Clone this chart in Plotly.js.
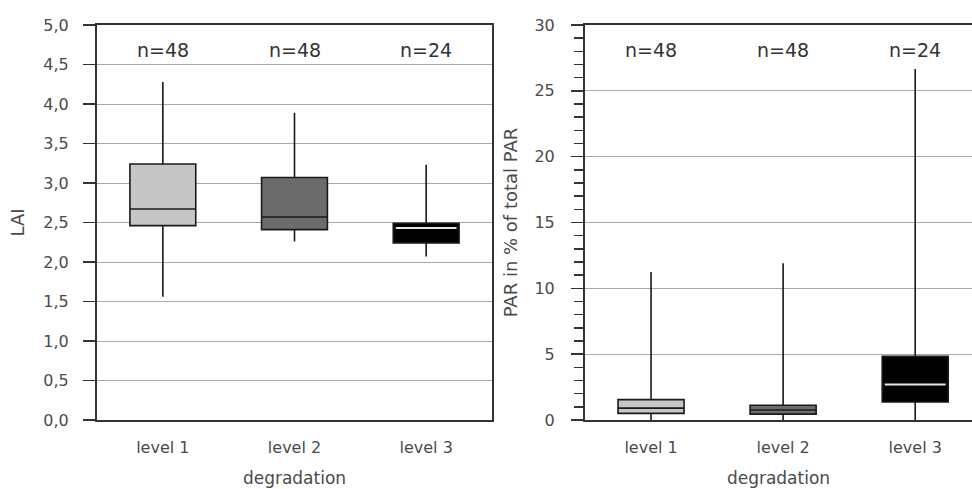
<!DOCTYPE html>
<html>
<head>
<meta charset="utf-8">
<script src="https://cdn.plot.ly/plotly-3.0.1.min.js"></script>
<style>html,body{margin:0;padding:0;background:#fff;}#chart{width:972px;height:489px;}</style>
</head>
<body>
<div id="chart"></div>
<script>
// ---- data ----
const categories = ['level 1', 'level 2', 'level 3'];
const counts = ['n=48', 'n=48', 'n=24'];

const laiLower  = [1.56, 2.26, 2.07];
const laiQ1     = [2.46, 2.41, 2.24];
const laiMedian = [2.67, 2.57, 2.43];
const laiQ3     = [3.24, 3.07, 2.49];
const laiUpper  = [4.28, 3.89, 3.23];

const parLower  = [0, 0, 0];
const parQ1     = [0.5, 0.45, 1.37];
const parMedian = [0.9, 0.76, 2.7];
const parQ3     = [1.55, 1.12, 4.83];
const parUpper  = [11.24, 11.9, 26.65];

// ---- styles ----
const fills = ['#c6c6c6', '#6c6c6c', '#000000'];
const medianColors = ['#1a1a1a', '#1a1a1a', '#e6e6e6'];
const FONT = 'DejaVu Sans, Arial, sans-serif';
const TXT = '#4a4a4a';

function boxTraces(lo, q1, med, q3, hi, xa, ya) {
  const out = [];
  categories.forEach((c, i) => {
    out.push({
      type: 'box', x: [c], q1: [q1[i]], median: [med[i]], q3: [q3[i]],
      lowerfence: [lo[i]], upperfence: [hi[i]],
      xaxis: xa, yaxis: ya, width: 0.5, whiskerwidth: 0,
      fillcolor: fills[i], line: {color: '#1a1a1a', width: 1.6},
      boxpoints: false, hoverinfo: 'skip', showlegend: false
    });
    if (medianColors[i] !== '#1a1a1a') {
      out.push({
        type: 'box', x: [c], q1: [med[i]], median: [med[i]], q3: [med[i]],
        lowerfence: [med[i]], upperfence: [med[i]],
        xaxis: xa, yaxis: ya, width: 0.46, whiskerwidth: 0,
        fillcolor: 'rgba(0,0,0,0)', line: {color: medianColors[i], width: 2},
        boxpoints: false, hoverinfo: 'skip', showlegend: false
      });
    }
  });
  return out;
}

const data = [
  ...boxTraces(laiLower, laiQ1, laiMedian, laiQ3, laiUpper, 'x', 'y'),
  ...boxTraces(parLower, parQ1, parMedian, parQ3, parUpper, 'x2', 'y2')
];

const annotations = [];
categories.forEach((c, i) => {
  annotations.push({x: c, xref: 'x', y: 0.937, yref: 'y domain', yanchor: 'middle', text: counts[i], showarrow: false,
    font: {family: FONT, size: 19, color: '#333'}});
  annotations.push({x: c, xref: 'x2', y: 0.937, yref: 'y2 domain', yanchor: 'middle', text: counts[i], showarrow: false,
    font: {family: FONT, size: 19, color: '#333'}});
});

const xCommon = {
  type: 'category', showgrid: false, zeroline: false, showline: true, mirror: true,
  linecolor: '#333', linewidth: 2, ticks: '', ticklabelstandoff: 12,
  tickfont: {family: FONT, size: 16, color: TXT},
  title: {text: 'degradation', font: {family: FONT, size: 17, color: TXT}, standoff: 16}
};

const layout = {
  width: 972, height: 489,
  margin: {l: 0, r: 0, t: 25, b: 69},
  paper_bgcolor: '#fff', plot_bgcolor: '#fff',
  separators: ',.',
  boxmode: 'overlay',
  showlegend: false,
  xaxis: Object.assign({}, xCommon, {domain: [97 / 972, 492 / 972], range: [-0.5, 2.5], anchor: 'y'}),
  xaxis2: Object.assign({}, xCommon, {domain: [585 / 972, 1], range: [-0.5, 2.43], anchor: 'y2'}),
  yaxis: {
    anchor: 'x', range: [0, 5], dtick: 0.5, tick0: 0, tickformat: '.1f',
    showgrid: true, gridcolor: '#a8a8a8', gridwidth: 1, zeroline: false,
    showline: true, mirror: true, linecolor: '#333', linewidth: 2,
    ticks: 'outside', ticklen: 12, tickcolor: '#333', tickwidth: 1.5, ticklabelstandoff: 11,
    tickfont: {family: FONT, size: 16, color: TXT},
    title: {text: 'LAI', font: {family: FONT, size: 18, color: TXT}, standoff: 14}
  },
  yaxis2: {
    anchor: 'x2', range: [0, 30], dtick: 5, tick0: 0,
    showgrid: true, gridcolor: '#a8a8a8', gridwidth: 1, zeroline: false,
    showline: true, mirror: false, linecolor: '#333', linewidth: 2,
    ticks: 'outside', ticklen: 12, tickcolor: '#333', tickwidth: 1.5, ticklabelstandoff: 13,
    minor: {dtick: 1, ticks: 'outside', ticklen: 9, tickcolor: '#333', tickwidth: 1.5, showgrid: false},
    tickfont: {family: FONT, size: 16, color: TXT},
    title: {text: 'PAR in % of total PAR', font: {family: FONT, size: 18, color: TXT}, standoff: 12}
  },
  annotations: annotations
};

Plotly.newPlot('chart', data, layout, {displayModeBar: false, staticPlot: true});
</script>
</body>
</html>
